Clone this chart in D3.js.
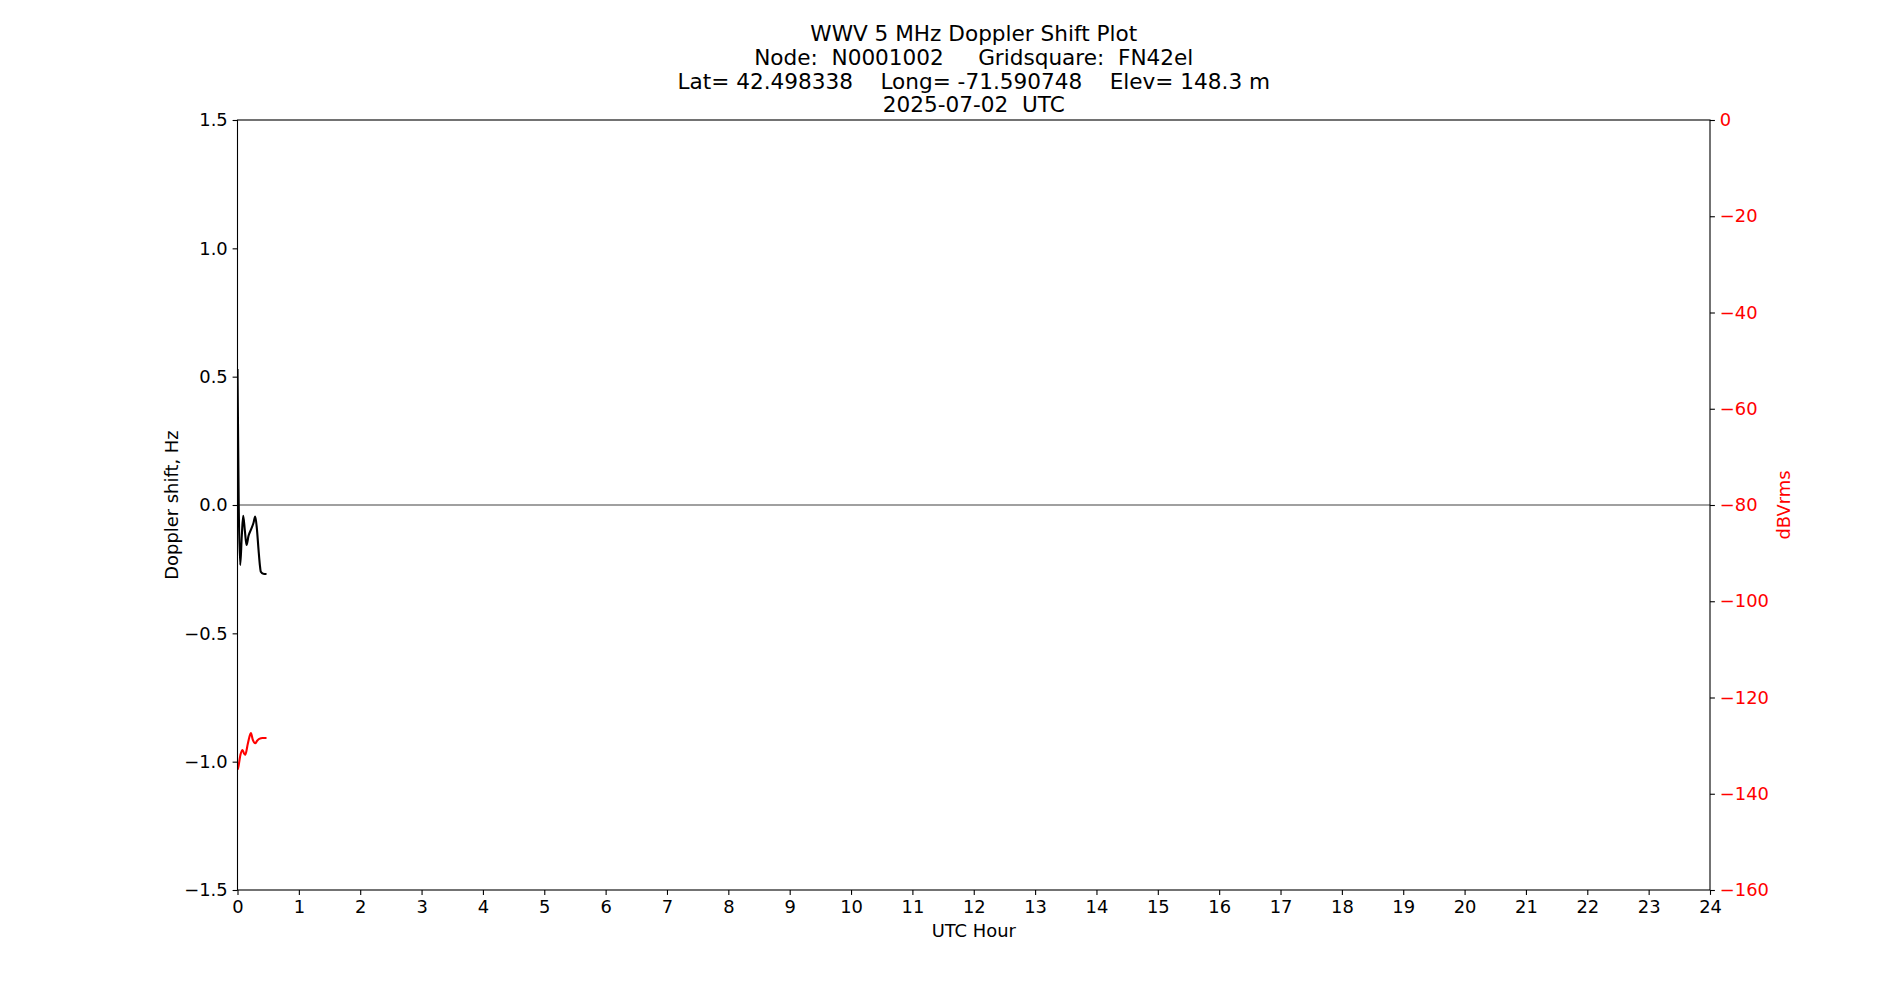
<!DOCTYPE html>
<html>
<head>
<meta charset="utf-8">
<script src="https://cdn.jsdelivr.net/npm/d3@7"></script>
<style>
  body { margin: 0; background: #fff; }
  svg text { font-family: 'DejaVu Sans', sans-serif; }
</style>
</head>
<body>
<svg id="chart"></svg>
<script>
// title lines
const titleLines = [
  'WWV 5 MHz Doppler Shift Plot',
  'Node:  N0001002     Gridsquare:  FN42el',
  'Lat= 42.498338    Long= -71.590748    Elev= 148.3 m',
  '2025-07-02  UTC'
]

// doppler trace (UTC hour, Hz)
const dopplerHours = [0.0, 0.02, 0.044, 0.07, 0.093, 0.12, 0.147, 0.18, 0.218, 0.26, 0.289, 0.315, 0.343, 0.365, 0.38, 0.42, 0.473]
const dopplerHz = [0.53, 0.0, -0.234, -0.12, -0.042, -0.10, -0.156, -0.12, -0.097, -0.07, -0.045, -0.09, -0.175, -0.235, -0.26, -0.268, -0.269]

// power trace (UTC hour, dBVrms)
const powerHours = [0.0, 0.011, 0.05, 0.082, 0.105, 0.126, 0.17, 0.218, 0.25, 0.289, 0.32, 0.354, 0.41, 0.473]
const powerDb = [-135.0, -134.6, -131.8, -130.9, -131.6, -131.9, -129.5, -127.4, -128.8, -129.5, -129.0, -128.6, -128.4, -128.4]

// ticks
const hourTicks = d3.range(0, 25)
const dopplerTicks = [-1.5, -1.0, -0.5, 0.0, 0.5, 1.0, 1.5]
const powerTicks = [0, -20, -40, -60, -80, -100, -120, -140, -160]

const W = 1900
const H = 1000
const margin = { top: 120, right: 190, bottom: 110, left: 237.5 }
const width = W - margin.left - margin.right
const height = H - margin.top - margin.bottom
const fontSize = 17.9

const svg = d3.select('#chart')
  .attr('width', W)
  .attr('height', H)

svg.append('rect')
  .attr('width', W)
  .attr('height', H)
  .attr('fill', '#fff')

const g = svg.append('g')
  .attr('transform', `translate(${margin.left}, ${margin.top})`)

const xScale = d3.scaleLinear().domain([0, 24]).range([0, width])
const yScale = d3.scaleLinear().domain([-1.5, 1.5]).range([height, 0])
const y2Scale = d3.scaleLinear().domain([-160, 0]).range([height, 0])

g.append('clipPath')
  .attr('id', 'clip')
  .append('rect')
  .attr('width', width)
  .attr('height', height)

// zero line
g.append('line')
  .attr('x1', 0)
  .attr('x2', width)
  .attr('y1', yScale(0))
  .attr('y2', yScale(0))
  .attr('stroke', '#808080')
  .attr('stroke-width', 1.4)

// doppler line
const dopplerLine = d3.line()
  .x((d, i) => xScale(dopplerHours[i]))
  .y((d) => yScale(d))
  .curve(d3.curveMonotoneX)

g.append('path')
  .datum(dopplerHz)
  .attr('clip-path', 'url(#clip)')
  .attr('d', dopplerLine)
  .attr('fill', 'none')
  .attr('stroke', '#000')
  .attr('stroke-width', 2.1)

// power line
const powerLine = d3.line()
  .x((d, i) => xScale(powerHours[i]))
  .y((d) => y2Scale(d))
  .curve(d3.curveMonotoneX)

g.append('path')
  .datum(powerDb)
  .attr('clip-path', 'url(#clip)')
  .attr('d', powerLine)
  .attr('fill', 'none')
  .attr('stroke', '#ff0000')
  .attr('stroke-width', 2.1)

function styleAxis (sel, color) {
  sel.select('.domain').remove()
  sel.selectAll('line').attr('stroke', '#000').attr('stroke-width', 1.1)
  sel.selectAll('text')
    .attr('fill', color)
    .style('font-size', `${fontSize}px`)
}

// x axis
g.append('g')
  .attr('transform', `translate(0, ${height})`)
  .call(d3.axisBottom(xScale)
    .tickValues(hourTicks)
    .tickFormat(d3.format('d'))
    .tickSize(4.9)
    .tickPadding(5.5))
  .call((sel) => styleAxis(sel, '#000'))

// left axis
g.append('g')
  .call(d3.axisLeft(yScale)
    .tickValues(dopplerTicks)
    .tickFormat(d3.format('.1f'))
    .tickSize(4.9)
    .tickPadding(4.9))
  .call((sel) => styleAxis(sel, '#000'))

// right axis
g.append('g')
  .attr('transform', `translate(${width}, 0)`)
  .call(d3.axisRight(y2Scale)
    .tickValues(powerTicks)
    .tickFormat(d3.format('d'))
    .tickSize(4.9)
    .tickPadding(4.9))
  .call((sel) => styleAxis(sel, '#ff0000'))

// frame
g.append('rect')
  .attr('width', width)
  .attr('height', height)
  .attr('fill', 'none')
  .attr('stroke', '#000')
  .attr('stroke-width', 1.1)

// axis labels
g.append('text')
  .attr('x', width / 2)
  .attr('y', 937 - margin.top)
  .attr('text-anchor', 'middle')
  .style('font-size', `${fontSize}px`)
  .text('UTC Hour')

g.append('text')
  .attr('transform', `translate(${178 - margin.left}, ${height / 2}) rotate(-90)`)
  .attr('text-anchor', 'middle')
  .style('font-size', `${fontSize}px`)
  .text('Doppler shift, Hz')

g.append('text')
  .attr('transform', `translate(${1790 - margin.left}, ${height / 2}) rotate(-90)`)
  .attr('text-anchor', 'middle')
  .attr('fill', '#ff0000')
  .style('font-size', `${fontSize}px`)
  .text('dBVrms')

// title
const titleBaselines = [41, 64.8, 88.6, 112.4]
svg.append('g')
  .selectAll('text')
  .data(titleLines)
  .join('text')
  .attr('x', margin.left + width / 2)
  .attr('y', (d, i) => titleBaselines[i])
  .attr('text-anchor', 'middle')
  .style('font-size', '21.6px')
  .style('white-space', 'pre')
  .attr('xml:space', 'preserve')
  .text((d) => d)
</script>
</body>
</html>
